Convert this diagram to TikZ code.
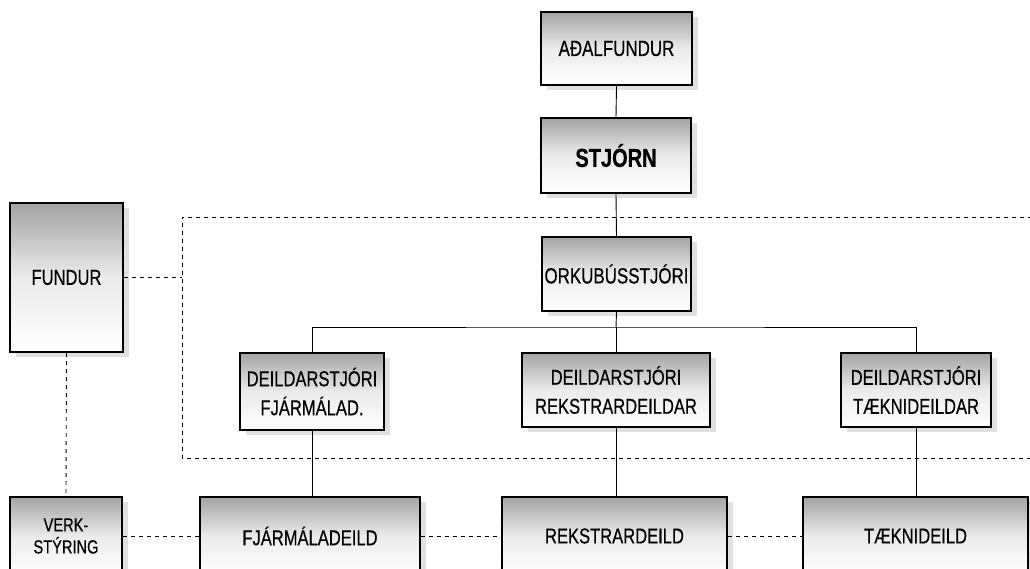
\documentclass[tikz,border=0pt]{standalone}
\usepackage{fontspec}
\setmainfont{Liberation Sans}[FakeStretch=0.77,FakeBold=0.4]
\usetikzlibrary{shadows}
\begin{document}
\begin{tikzpicture}[x=1pt,y=1pt,
  box/.style={draw=black, line width=2.4pt, top color=black!36, bottom color=white, middle color=black!8,
    drop shadow={shadow xshift=6pt, shadow yshift=-5pt, fill=black!20, opacity=0.6},
    inner sep=0pt, align=center, font=\fontsize{21.5}{29}\selectfont},
  tree/.style={line width=0.9pt},
  dashline/.style={line width=0.9pt, dash pattern=on 4pt off 4pt}]
\useasboundingbox (0,0) rectangle (1030,-569);
\clip (0,0) rectangle (1030,-569);
% nodes
\node[box, minimum width=151pt, minimum height=73pt, font=\fontsize{22}{26}\selectfont] (aF) at (616.5,-48.5) {AÐALFUNDUR};
\node[box, minimum width=150pt, minimum height=75pt, font=\fontsize{26}{30}\selectfont\bfseries] (st) at (616,-155.5) {STJÓRN};
\node[box, minimum width=149pt, minimum height=74pt, font=\fontsize{22}{26}\selectfont] (orku) at (616.5,-274) {ORKUBÚSSTJÓRI};
\node[box, minimum width=113pt, minimum height=149pt] (fundur) at (66.5,-277.5) {FUNDUR};
\node[box, minimum width=144pt, minimum height=77pt] (dF) at (312,-391.5) {DEILDARSTJÓRI\\FJÁRMÁLAD.};
\node[box, minimum width=188pt, minimum height=74pt] (dR) at (616,-390) {DEILDARSTJÓRI\\REKSTRARDEILDAR};
\node[box, minimum width=150pt, minimum height=74pt] (dT) at (916,-390) {DEILDARSTJÓRI\\TÆKNIDEILDAR};
\node[box, minimum width=112pt, minimum height=78pt, font=\fontsize{19}{22}\selectfont] (verk) at (66,-536) {VERK-\\STÝRING};
\node[box, minimum width=220pt, minimum height=78pt] (fF) at (310,-536) {FJÁRMÁLADEILD};
\node[box, minimum width=225pt, minimum height=78pt] (rR) at (614.5,-536) {REKSTRARDEILD};
\node[box, minimum width=225pt, minimum height=78pt] (tT) at (915.5,-536) {TÆKNIDEILD};
% frame
\coordinate (fTL) at (182,-217);
\coordinate (fBL) at (182,-458);
\coordinate (fTR) at (1032,-217);
\coordinate (fBR) at (1032,-458);
\draw[dashline] (fTR) -- (fTL) -- (fBL) -- (fBR);
% tree
\coordinate (br) at (616,-327);
\draw[tree] (aF.south) -- (st.north);
\draw[tree] (st.south) -- (orku.north);
\draw[tree] (orku.south) -- (br);
\draw[tree] (dF.north) |- (br) -| (dT.north);
\draw[tree] (br) -- (dR.north);
\draw[tree] (dF.south) -- (dF.south |- fF.north);
\draw[tree] (dR.south) -- (dR.south |- rR.north);
\draw[tree] (dT.south) -- (dT.south |- tT.north);
% dashed links
\draw[dashline] (fundur.east) -- (fundur.east -| fTL);
\draw[dashline] (fundur.south) -- (verk.north);
\draw[dashline] (verk.east) -- (fF.west);
\draw[dashline] (fF.east) -- (rR.west);
\draw[dashline] (rR.east) -- (tT.west);
\end{tikzpicture}
\end{document}
